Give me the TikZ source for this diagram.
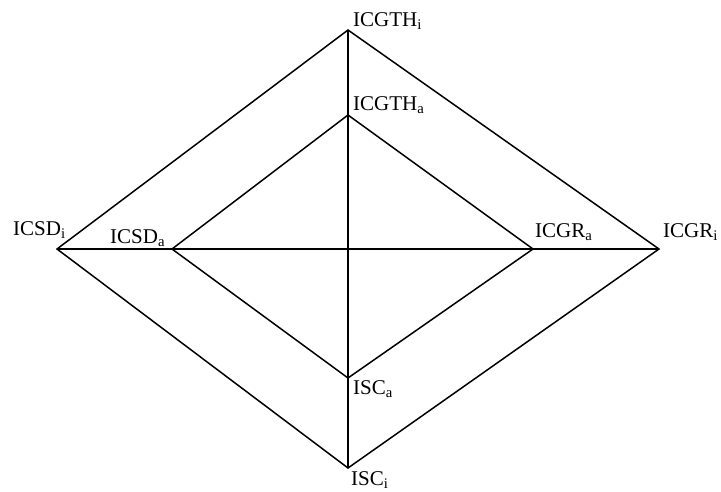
\documentclass[tikz,border=0pt]{standalone}
\usepackage{fontspec}
\setmainfont{Liberation Serif}
\begin{document}
\begin{tikzpicture}[x=1pt,y=-1pt,
  edge/.style={line width=1.5pt,line join=miter,black},
  lbl/.style={anchor=base west,inner sep=0pt,font=\fontsize{21}{24}\selectfont}]
\useasboundingbox (0,0) rectangle (721,491);
% outer diamond vertices
\coordinate (Ti) at (348,30);
\coordinate (Li) at (57,249);
\coordinate (Ri) at (659,249);
\coordinate (Bi) at (348,468);
% inner diamond vertices
\coordinate (Ta) at (348,115);
\coordinate (La) at (172,249);
\coordinate (Ra) at (533,249);
\coordinate (Ba) at (348,378);
% diamonds
\draw[edge] (Ti) -- (Ri) -- (Bi) -- (Li) -- cycle;
\draw[edge] (Ta) -- (Ra) -- (Ba) -- (La) -- cycle;
% axes
\draw[edge] (Ti) -- (Bi);
\draw[edge] (Li) -- (Ri);
% labels
\node[lbl] (lTi) at (353,26) {ICGTH\textsubscript{i}};
\node[lbl] (lTa) at (353,110) {ICGTH\textsubscript{a}};
\node[lbl] (lLi) at (13,235) {ICSD\textsubscript{i}};
\node[lbl] (lLa) at (110,243) {ICSD\textsubscript{a}};
\node[lbl] (lRa) at (535,237) {ICGR\textsubscript{a}};
\node[lbl] (lRi) at (663,237) {ICGR\textsubscript{i}};
\node[lbl] (lBa) at (353,394) {ISC\textsubscript{a}};
\node[lbl] (lBi) at (351,485) {ISC\textsubscript{i}};
\end{tikzpicture}
\end{document}
